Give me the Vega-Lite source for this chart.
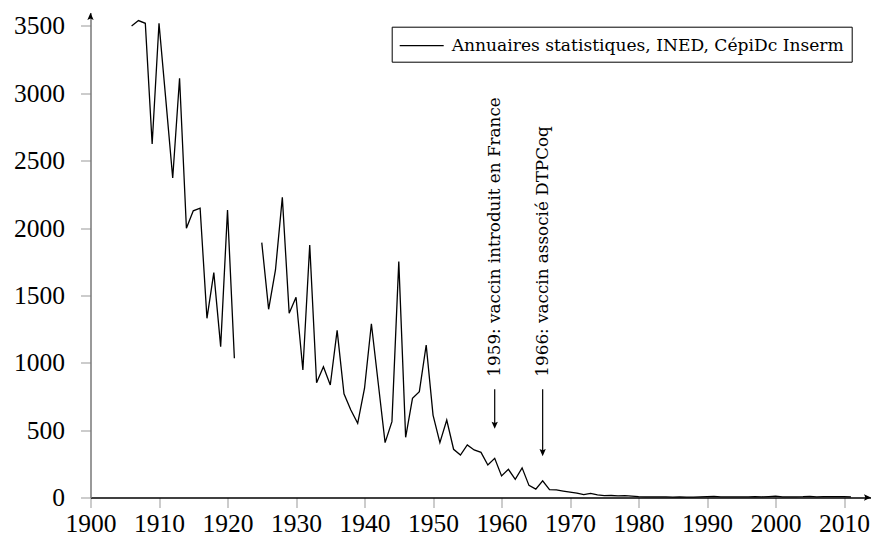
{
  "$schema": "https://vega.github.io/schema/vega-lite/v6.json",
  "width": 781,
  "height": 485,
  "autosize": "none",
  "padding": {"left": 90.5, "top": 12.5, "right": 0, "bottom": 41.5},
  "background": "white",
  "config": {
    "view": {"stroke": null},
    "font": "Liberation Serif",
    "axis": {"grid": false, "labelFont": "Liberation Serif", "labelColor": "black", "labelFontSize": 25.5, "tickColor": "#999999", "tickSize": 10, "tickWidth": 1, "title": null}
  },
  "datasets": {
    "deaths": [
      {"year": 1906, "deaths": 3500}, {"year": 1907, "deaths": 3540}, {"year": 1908, "deaths": 3520},
      {"year": 1909, "deaths": 2624}, {"year": 1910, "deaths": 3520}, {"year": 1911, "deaths": 2950},
      {"year": 1912, "deaths": 2372}, {"year": 1913, "deaths": 3112}, {"year": 1914, "deaths": 1998},
      {"year": 1915, "deaths": 2128}, {"year": 1916, "deaths": 2147}, {"year": 1917, "deaths": 1330},
      {"year": 1918, "deaths": 1669}, {"year": 1919, "deaths": 1120}, {"year": 1920, "deaths": 2134},
      {"year": 1921, "deaths": 1033}, {"year": 1922, "deaths": null}, {"year": 1923, "deaths": null},
      {"year": 1924, "deaths": null}, {"year": 1925, "deaths": 1892}, {"year": 1926, "deaths": 1397},
      {"year": 1927, "deaths": 1689}, {"year": 1928, "deaths": 2228}, {"year": 1929, "deaths": 1367},
      {"year": 1930, "deaths": 1486}, {"year": 1931, "deaths": 946}, {"year": 1932, "deaths": 1874},
      {"year": 1933, "deaths": 852}, {"year": 1934, "deaths": 971}, {"year": 1935, "deaths": 835},
      {"year": 1936, "deaths": 1240}, {"year": 1937, "deaths": 770}, {"year": 1938, "deaths": 650},
      {"year": 1939, "deaths": 551}, {"year": 1940, "deaths": 811}, {"year": 1941, "deaths": 1290},
      {"year": 1942, "deaths": 848}, {"year": 1943, "deaths": 407}, {"year": 1944, "deaths": 563},
      {"year": 1945, "deaths": 1751}, {"year": 1946, "deaths": 447}, {"year": 1947, "deaths": 736},
      {"year": 1948, "deaths": 786}, {"year": 1949, "deaths": 1132}, {"year": 1950, "deaths": 612},
      {"year": 1951, "deaths": 407}, {"year": 1952, "deaths": 575}, {"year": 1953, "deaths": 358},
      {"year": 1954, "deaths": 315}, {"year": 1955, "deaths": 390}, {"year": 1956, "deaths": 353},
      {"year": 1957, "deaths": 335}, {"year": 1958, "deaths": 241}, {"year": 1959, "deaths": 291},
      {"year": 1960, "deaths": 160}, {"year": 1961, "deaths": 209}, {"year": 1962, "deaths": 135},
      {"year": 1963, "deaths": 220}, {"year": 1964, "deaths": 90}, {"year": 1965, "deaths": 62},
      {"year": 1966, "deaths": 124}, {"year": 1967, "deaths": 58}, {"year": 1968, "deaths": 56},
      {"year": 1969, "deaths": 48}, {"year": 1970, "deaths": 40}, {"year": 1971, "deaths": 33},
      {"year": 1972, "deaths": 22}, {"year": 1973, "deaths": 31}, {"year": 1974, "deaths": 20},
      {"year": 1975, "deaths": 14}, {"year": 1976, "deaths": 15}, {"year": 1977, "deaths": 12},
      {"year": 1978, "deaths": 14}, {"year": 1979, "deaths": 10}, {"year": 1980, "deaths": 6},
      {"year": 1981, "deaths": 5}, {"year": 1982, "deaths": 4}, {"year": 1983, "deaths": 5},
      {"year": 1984, "deaths": 4}, {"year": 1985, "deaths": 3}, {"year": 1986, "deaths": 4},
      {"year": 1987, "deaths": 3}, {"year": 1988, "deaths": 3}, {"year": 1989, "deaths": 4},
      {"year": 1990, "deaths": 6}, {"year": 1991, "deaths": 9}, {"year": 1992, "deaths": 5},
      {"year": 1993, "deaths": 4}, {"year": 1994, "deaths": 4}, {"year": 1995, "deaths": 5},
      {"year": 1996, "deaths": 4}, {"year": 1997, "deaths": 6}, {"year": 1998, "deaths": 5},
      {"year": 1999, "deaths": 7}, {"year": 2000, "deaths": 10}, {"year": 2001, "deaths": 5},
      {"year": 2002, "deaths": 4}, {"year": 2003, "deaths": 5}, {"year": 2004, "deaths": 6},
      {"year": 2005, "deaths": 9}, {"year": 2006, "deaths": 5}, {"year": 2007, "deaths": 6},
      {"year": 2008, "deaths": 7}, {"year": 2009, "deaths": 7}, {"year": 2010, "deaths": 6},
      {"year": 2011, "deaths": 4}
    ],
    "notes": [
      {"year": 1959, "text_at": 897, "arrow_from": 803, "arrow_head": 543, "label": "1959: vaccin introduit en France"},
      {"year": 1966, "text_at": 897, "arrow_from": 803, "arrow_head": 340, "label": "1966: vaccin associé DTPCoq"}
    ],
    "axisarrows": [
      {"year": 1900, "deaths": 3565, "dir": "up"},
      {"year": 2013.3, "deaths": 0, "dir": "right"}
    ]
  },
  "layer": [
    {
      "data": {"name": "deaths"},
      "mark": {"type": "line", "color": "black", "strokeWidth": 1.3, "invalid": "break-paths-show-domains"},
      "encoding": {
        "x": {"field": "year", "type": "quantitative", "scale": {"domain": [1900, 2014], "nice": false, "zero": false},
              "axis": {"values": [1900, 1910, 1920, 1930, 1940, 1950, 1960, 1970, 1980, 1990, 2000, 2010], "format": "d", "domainColor": "black", "domainWidth": 1.3, "labelPadding": 4, "labelFlush": false}},
        "y": {"field": "deaths", "type": "quantitative", "scale": {"domain": [0, 3600], "nice": false},
              "axis": {"values": [0, 500, 1000, 1500, 2000, 2500, 3000, 3500], "format": "d", "domainColor": "#777777", "domainWidth": 1.5, "labelPadding": 16, "labelAlign": "right", "labelBaseline": "middle"}},
        "color": {"datum": "Annuaires statistiques, INED, CépiDc Inserm", "type": "nominal", "scale": {"range": ["black"]},
                  "legend": {"orient": "none", "legendX": 301.2, "legendY": 14.2, "title": null, "symbolType": "M-2,0H2", "symbolSize": 484, "symbolOffset": 11, "symbolStrokeWidth": 1.3, "symbolStrokeColor": "black", "symbolFillColor": "transparent", "labelFont": "DejaVu Serif", "labelFontSize": 17.1, "labelLimit": 0, "labelColor": "black", "strokeColor": "black", "fillColor": "white", "padding": 7, "labelOffset": 18, "cornerRadius": 0}}
      }
    },
    {
      "data": {"name": "notes"},
      "mark": {"type": "rule", "color": "black", "strokeWidth": 1.2},
      "encoding": {
        "x": {"field": "year", "type": "quantitative"},
        "y": {"field": "arrow_from", "type": "quantitative"},
        "y2": {"field": "arrow_head"}
      }
    },
    {
      "data": {"name": "notes"},
      "mark": {"type": "point", "shape": "M0,1 L-0.7,-0.6 L0,-0.3 L0.7,-0.6 Z", "filled": true, "color": "black", "opacity": 1, "size": 81, "strokeWidth": 0},
      "encoding": {
        "x": {"field": "year", "type": "quantitative"},
        "y": {"field": "arrow_head", "type": "quantitative"}
      }
    },
    {
      "data": {"name": "notes"},
      "mark": {"type": "text", "angle": 270, "align": "left", "baseline": "middle", "font": "DejaVu Serif", "fontSize": 16.8, "color": "black"},
      "encoding": {
        "x": {"field": "year", "type": "quantitative"},
        "y": {"field": "text_at", "type": "quantitative"},
        "text": {"field": "label"}
      }
    },
    {
      "data": {"name": "axisarrows"},
      "transform": [{"filter": "datum.dir === 'up'"}],
      "mark": {"type": "point", "shape": "M0,-1 L0.7,0.6 L0,0.3 L-0.7,0.6 Z", "filled": true, "color": "black", "opacity": 1, "size": 81, "strokeWidth": 0},
      "encoding": {
        "x": {"field": "year", "type": "quantitative"},
        "y": {"field": "deaths", "type": "quantitative"}
      }
    },
    {
      "data": {"name": "axisarrows"},
      "transform": [{"filter": "datum.dir === 'right'"}],
      "mark": {"type": "point", "shape": "M1,0 L-0.6,-0.7 L-0.3,0 L-0.6,0.7 Z", "filled": true, "color": "black", "opacity": 1, "size": 81, "strokeWidth": 0},
      "encoding": {
        "x": {"field": "year", "type": "quantitative"},
        "y": {"field": "deaths", "type": "quantitative"}
      }
    }
  ]
}
